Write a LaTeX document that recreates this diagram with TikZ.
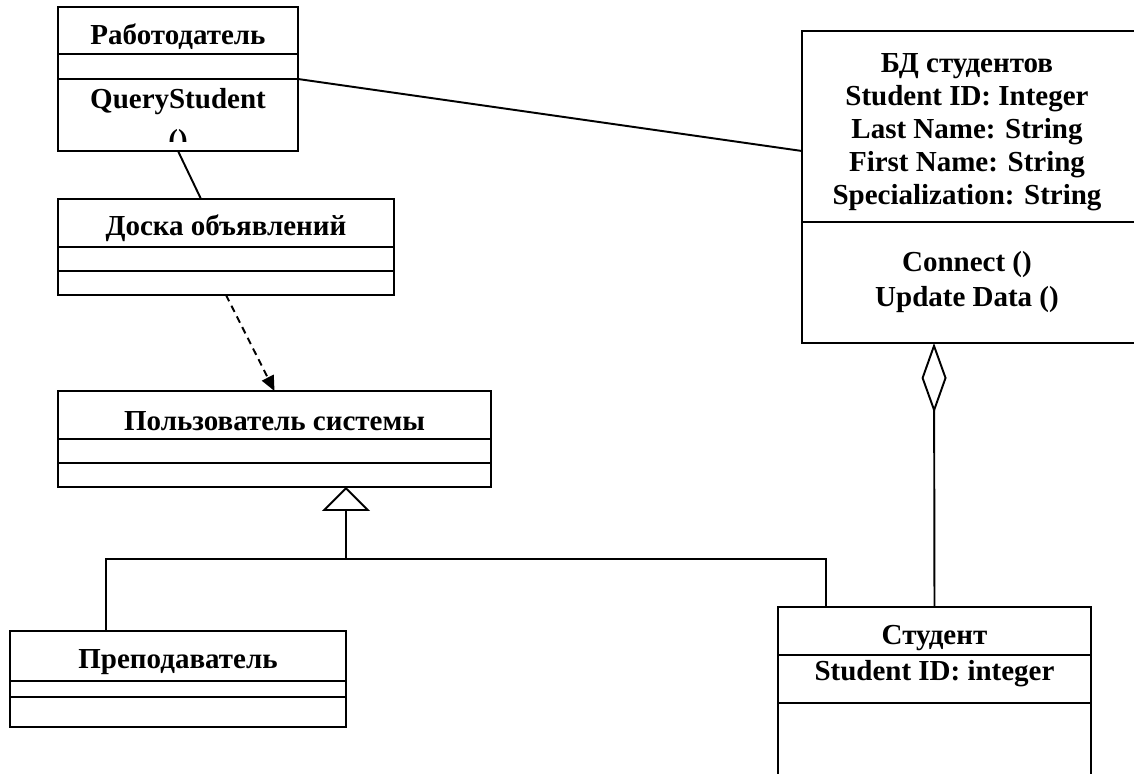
\documentclass[tikz,border=0pt]{standalone}
\usepackage{fontspec}
\setmainfont{Liberation Serif}
\usetikzlibrary{arrows.meta,calc,positioning}

\newcommand{\umlfont}{\fontsize{16.5pt}{15.9pt}\selectfont\bfseries}
\newcommand{\umlwidefont}{\fontsize{16.5pt}{18.7pt}\selectfont\bfseries}

\begin{document}
\begin{tikzpicture}[
  x=0.02cm, y=-0.02cm,
  line join=miter,
  cls/.style={draw=black, line width=1.1pt, inner sep=0pt, outer sep=0pt},
  clsname/.style={font=\umlfont, inner sep=0pt, anchor=base},
  clsattr/.style={font=\umlfont, inner sep=0pt, align=center},
  link/.style={draw=black, line width=1.1pt},
  dep/.style={link, dash pattern=on 0.14cm off 0.1cm,
    -{Triangle[length=0.3cm, width=0.26cm]}},
  gen/.style={link, -{Triangle[open, length=0.48cm, width=0.96cm]}},
  agg/.style={link, -{Diamond[open, length=1.4cm, width=0.5cm]}}
]
\useasboundingbox (0,0) rectangle (1134,774);

% Employer class
\node[cls, minimum width=4.8cm, minimum height=2.88cm] (emp) at (178,79) {};
\draw[link] (emp.west |- 0,54) -- (emp.east |- 0,54);
\draw[link] (emp.west |- 0,79) -- (emp.east |- 0,79);
\node[clsname] (empname) at (178,45) {Работодатель};
\node[clsname] (empop) at (178,108) {QueryStudent};
\begin{scope}
  \clip (58,79) rectangle (298,141);
  \node[clsname] (empopargs) at (178,149) {()};
\end{scope}

% Notice board class
\node[cls, minimum width=6.72cm, minimum height=1.92cm] (board) at (226,247) {};
\draw[link] (board.west |- 0,247) -- (board.east |- 0,247);
\draw[link] (board.west |- 0,271) -- (board.east |- 0,271);
\node[clsname] (boardname) at (226,235) {Доска объявлений};

% System user class
\node[cls, minimum width=8.66cm, minimum height=1.92cm] (user) at (274.5,439) {};
\draw[link] (user.west |- 0,439) -- (user.east |- 0,439);
\draw[link] (user.west |- 0,463) -- (user.east |- 0,463);
\node[clsname] (username) at (274.5,430) {Пользователь системы};

% Teacher class
\node[cls, minimum width=6.72cm, minimum height=1.92cm] (teach) at (178,679) {};
\draw[link] (teach.west |- 0,681) -- (teach.east |- 0,681);
\draw[link] (teach.west |- 0,697) -- (teach.east |- 0,697);
\node[clsname] (teachname) at (178,668) {Преподаватель};

% Student class
\node[cls, minimum width=6.26cm, minimum height=3.86cm] (stud) at (934.5,703.5) {};
\draw[link] (stud.west |- 0,655) -- (stud.east |- 0,655);
\draw[link] (stud.west |- 0,703) -- (stud.east |- 0,703);
\node[clsname] (studname) at (934.5,644) {Студент};
\node[clsname] (studattr) at (934.5,680) {Student ID: integer};

% Student database class
\node[cls, minimum width=6.76cm, minimum height=6.24cm] (db) at (971,187) {};
\draw[link] (db.west |- 0,222) -- (db.east |- 0,222);
\node[clsattr, font=\umlwidefont] (dbattr) at (967,132)
  {БД студентов\\Student ID: Integer\\Last Name: String\\First Name: String\\Specialization: String};
\node[clsattr] (dbops) at (967,282)
  {Connect ()\\[4pt]Update Data ()};

% Relations
\draw[link] (emp.south) -- ([xshift=-0.5cm]board.north);
\draw[link] (emp.east) -- ([yshift=0.72cm]db.west);
\draw[dep] (board.south) -- (user.north);

\coordinate (split) at (346,559);
\draw[link] ([xshift=-1.44cm]teach.north) |- (split) -| ([xshift=-2.17cm]stud.north);
\draw[gen] (split) -- ([xshift=1.43cm]user.south);

\draw[agg] (stud.north) -- ([xshift=-0.74cm]db.south);
\end{tikzpicture}
\end{document}
